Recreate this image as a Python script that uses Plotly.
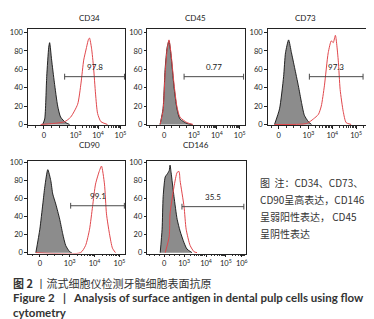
import plotly.graph_objects as go
import math

W, H = 374, 319

# ---------------- data (x in display "decade" units, y in % of max) -------------
PANEL_NAMES = ["CD34", "CD45", "CD73", "CD90", "CD146"]

CD34_ISO_X = [1.53, 1.62, 1.71, 1.80, 1.84, 1.93, 2.05, 2.20, 2.33, 2.56, 2.73]
CD34_ISO_Y = [0, 6, 52, 84, 89, 70, 46, 20, 8, 2, 0]
CD34_POS_X = [1.44, 1.98, 2.51, 2.78, 3.09, 3.24, 3.36, 3.46, 3.58, 3.62, 3.71, 3.80, 3.89, 3.98, 4.13, 4.42]
CD34_POS_Y = [0, 1, 3, 8, 22, 45, 70, 81, 93, 94, 83, 62, 33, 12, 3, 0]
CD34_GATE = [2.51, 5.18, 52]
CD34_PCT = "97.8"

CD45_ISO_X = [1.52, 1.65, 1.74, 1.83, 1.91, 2.00, 2.13, 2.26, 2.39, 2.70, 2.91]
CD45_ISO_Y = [0, 17, 60, 84, 91, 75, 41, 17, 6, 1, 0]
CD45_POS_X = [1.52, 1.65, 1.74, 1.83, 1.91, 2.00, 2.13, 2.26, 2.39, 2.70, 2.96]
CD45_POS_Y = [0, 15, 55, 82, 92, 77, 44, 19, 8, 2, 0]
CD45_GATE = [2.57, 5.17, 52]
CD45_PCT = "0.77"

CD73_ISO_X = [1.58, 1.79, 1.96, 2.04, 2.17, 2.29, 2.42, 2.58, 2.71, 2.83, 3.00, 3.13]
CD73_ISO_Y = [0, 17, 52, 78, 92, 78, 62, 42, 24, 10, 3, 0]
CD73_POS_X = [1.58, 2.92, 3.21, 3.42, 3.54, 3.67, 3.83, 3.96, 4.04, 4.13, 4.25, 4.33, 4.46, 4.58, 4.79]
CD73_POS_Y = [0, 1, 6, 11, 20, 42, 78, 91, 89, 97, 70, 38, 14, 2, 0]
CD73_GATE = [3.04, 5.29, 52]
CD73_PCT = "97.3"

CD90_ISO_X = [1.64, 1.80, 1.92, 2.00, 2.12, 2.24, 2.32, 2.44, 2.60, 2.72, 2.84, 3.00, 3.08]
CD90_ISO_Y = [0, 26, 54, 73, 92, 80, 65, 54, 37, 21, 8, 1, 0]
CD90_POS_X = [1.64, 3.44, 3.64, 3.80, 3.92, 4.04, 4.20, 4.28, 4.40, 4.48, 4.60, 4.72, 4.84]
CD90_POS_Y = [0, 0, 8, 26, 51, 76, 91, 96, 76, 43, 21, 5, 0]
CD90_GATE = [3.04, 5.20, 52]
CD90_PCT = "99.1"

CD146_ISO_X = [1.86, 1.95, 2.00, 2.10, 2.19, 2.29, 2.33, 2.38, 2.52, 2.67, 2.81, 3.00, 3.14, 3.38]
CD146_ISO_Y = [0, 26, 62, 84, 87, 91, 97, 89, 62, 37, 24, 11, 4, 0]
CD146_POS_X = [2.10, 2.29, 2.33, 2.52, 2.67, 2.76, 2.81, 3.00, 3.10, 3.29, 3.48, 3.62]
CD146_POS_Y = [0, 18, 43, 73, 89, 90, 80, 51, 26, 8, 1, 0]
CD146_GATE = [2.90, 5.86, 51]
CD146_PCT = "35.5"

TICK_TEXT_4 = ["0", "10<sup>3</sup>", "10<sup>4</sup>", "10<sup>5</sup>"]
TICK_TEXT_5 = ["0", "10<sup>3</sup>", "10<sup>4</sup>", "10<sup>5</sup>", "10<sup>6</sup>"]
Y_TICKS = [0, 20, 40, 60, 80, 100]

NOTE_LINES = ["图  注：CD34、CD73、", "CD90呈高表达，CD146", "呈弱阳性表达， CD45", "呈阴性表达"]
CAPTION_CN = "<b>图 2</b> 丨流式细胞仪检测牙髓细胞表面抗原"
CAPTION_EN_1 = "<b>Figure 2   |   Analysis of surface antigen in dental pulp cells using flow</b>"
CAPTION_EN_2 = "<b>cytometry</b>"

# ---------------- layout geometry (pixels) ----------------
panels = [
    dict(iso=(CD34_ISO_X, CD34_ISO_Y), pos=(CD34_POS_X, CD34_POS_Y), gate=CD34_GATE, pct=CD34_PCT,
         box=(20, 118, 18, 117), xr=[0.87, 5.22], yr=[-1.06, 104.3],
         tv=[1.58, 3, 4, 5], tt=TICK_TEXT_4, title_y=7.5),
    dict(iso=(CD45_ISO_X, CD45_ISO_Y), pos=(CD45_POS_X, CD45_POS_Y), gate=CD45_GATE, pct=CD45_PCT,
         box=(140, 238, 18, 117), xr=[0.96, 5.22], yr=[-1.06, 104.3],
         tv=[1.70, 3, 4, 5], tt=TICK_TEXT_4, title_y=7.5),
    dict(iso=(CD73_ISO_X, CD73_ISO_Y), pos=(CD73_POS_X, CD73_POS_Y), gate=CD73_GATE, pct=CD73_PCT,
         box=(261, 362, 18, 117), xr=[1.29, 5.5], yr=[-1.06, 104.3],
         tv=[1.75, 3, 4, 5], tt=TICK_TEXT_4, title_y=7.5),
    dict(iso=(CD90_ISO_X, CD90_ISO_Y), pos=(CD90_POS_X, CD90_POS_Y), gate=CD90_GATE, pct=CD90_PCT,
         box=(20, 118, 153, 248), xr=[1.32, 5.24], yr=[-1.0, 102.0],
         tv=[1.80, 3, 4, 5], tt=TICK_TEXT_4, title_y=137),
    dict(iso=(CD146_ISO_X, CD146_ISO_Y), pos=(CD146_POS_X, CD146_POS_Y), gate=CD146_GATE, pct=CD146_PCT,
         box=(140, 239, 153, 248), xr=[1.24, 5.95], yr=[-1.0, 102.0],
         tv=[2.05, 3, 4.05, 5, 5.76], tt=TICK_TEXT_5, title_y=137),
]

LAT = "Lato, 'Open Sans', sans-serif"
CJK = "'Noto Sans CJK SC', sans-serif"

fig = go.Figure()
layout = dict(width=W, height=H, margin=dict(l=0, r=0, t=0, b=0),
              paper_bgcolor="white", plot_bgcolor="white", showlegend=False)
annotations = []

for i, p in enumerate(panels):
    n = "" if i == 0 else str(i + 1)
    xa, ya = "x" + n, "y" + n
    l, r, t, b = p["box"]
    fig.add_trace(go.Scatter(x=p["iso"][0], y=p["iso"][1], mode="lines", xaxis=xa, yaxis=ya,
                             line=dict(color="#111111", width=0.9, shape="spline", smoothing=0.6),
                             fill="tozeroy", fillcolor="#8c8c8c", hoverinfo="skip"))
    fig.add_trace(go.Scatter(x=p["pos"][0], y=p["pos"][1], mode="lines", xaxis=xa, yaxis=ya,
                             line=dict(color="#e0474c", width=1, shape="spline", smoothing=0.6),
                             hoverinfo="skip"))
    g0, g1, gy = p["gate"]
    cap = 3.2
    fig.add_trace(go.Scatter(x=[g0, g0, None, g0, g1, None, g1, g1],
                             y=[gy - cap, gy + cap, None, gy, gy, None, gy - cap, gy + cap],
                             mode="lines", xaxis=xa, yaxis=ya,
                             line=dict(color="#4a4a4a", width=1), hoverinfo="skip"))
    annotations.append(dict(x=(g0 + g1) / 2, y=gy + 3, xref=xa, yref=ya, text=p["pct"],
                            showarrow=False, yanchor="bottom",
                            font=dict(family=LAT, size=8, color="#222")))
    minor_vals = []
    for dec in [3, 4, 5]:
        for k in range(2, 10):
            v = dec + math.log10(k)
            if p["xr"][0] < v < p["xr"][1]:
                minor_vals.append(v)
    step = (3 - p["tv"][0]) / 4
    for j in range(1, 4):
        minor_vals.append(p["tv"][0] + j * step)
        minor_vals.append(p["tv"][0] - j * step)
    minor_vals = [v for v in minor_vals if p["xr"][0] < v < p["xr"][1]]

    xkey = "xaxis" + n
    ykey = "yaxis" + n
    layout[xkey] = dict(domain=[l / W, r / W], range=p["xr"], anchor=ya,
                        tickmode="array", tickvals=p["tv"], ticktext=p["tt"],
                        ticks="outside", ticklen=2.5, tickwidth=1, tickcolor="#222",
                        minor=dict(tickmode="array", tickvals=minor_vals, ticks="outside",
                                   ticklen=1.5, tickwidth=0.7, tickcolor="#333"),
                        showline=True, linecolor="#222", linewidth=1, mirror=True,
                        showgrid=False, zeroline=False,
                        tickfont=dict(family=LAT, size=7.5, color="#222"))
    layout[ykey] = dict(domain=[1 - b / H, 1 - t / H], range=p["yr"], anchor=xa,
                        tickmode="array", tickvals=Y_TICKS,
                        ticks="outside", ticklen=2.5, tickwidth=1, tickcolor="#222",
                        showline=True, linecolor="#222", linewidth=1, mirror=True,
                        showgrid=False, zeroline=False,
                        tickfont=dict(family=LAT, size=7.5, color="#222"))
    annotations.append(dict(x=(l + r) / 2 / W, y=1 - p["title_y"] / H, xref="paper", yref="paper",
                            text=PANEL_NAMES[i], showarrow=False, yanchor="middle",
                            font=dict(family=LAT, size=8, color="#222")))

note_y = [175, 193, 210, 227]
for txt, yy in zip(NOTE_LINES, note_y):
    annotations.append(dict(x=251 / W, y=1 - yy / H, xref="paper", yref="paper", text=txt,
                            showarrow=False, xanchor="left", yanchor="middle",
                            font=dict(family=CJK, size=10, color="#333")))

annotations.append(dict(x=3 / W, y=1 - 278 / H, xref="paper", yref="paper", text=CAPTION_CN,
                        showarrow=False, xanchor="left", yanchor="middle",
                        font=dict(family=CJK, size=11, color="#333")))
annotations.append(dict(x=3 / W, y=1 - 293 / H, xref="paper", yref="paper", text=CAPTION_EN_1,
                        showarrow=False, xanchor="left", yanchor="middle",
                        font=dict(family=LAT, size=11.5, color="#333")))
annotations.append(dict(x=3 / W, y=1 - 308 / H, xref="paper", yref="paper", text=CAPTION_EN_2,
                        showarrow=False, xanchor="left", yanchor="middle",
                        font=dict(family=LAT, size=11.5, color="#333")))

layout["annotations"] = annotations
fig.update_layout(**layout)
fig.write_html("out.html")
